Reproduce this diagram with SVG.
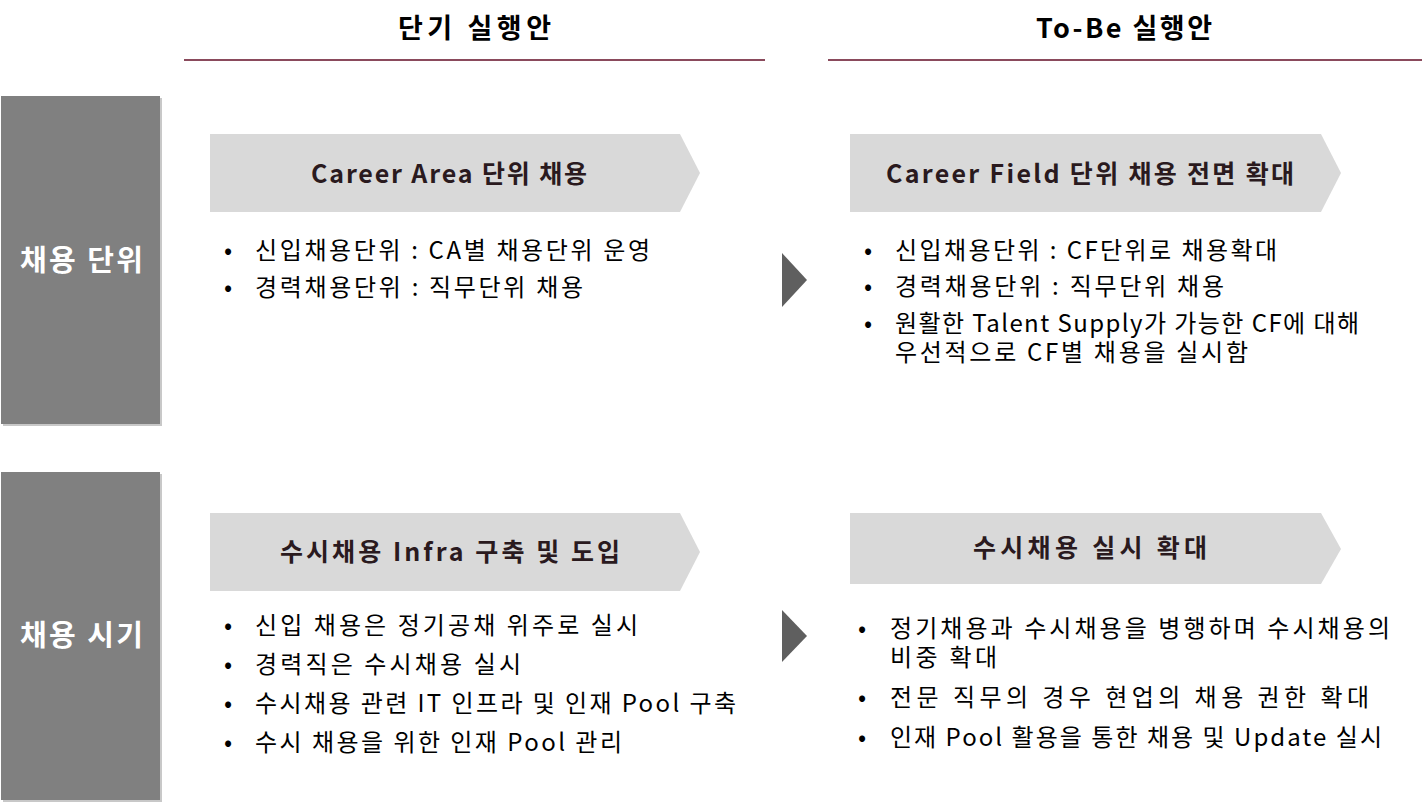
<svg xmlns="http://www.w3.org/2000/svg" width="1422" height="802" viewBox="0 0 1422 802">
<style>
.hdr{font-family:"Noto Sans CJK KR","Liberation Sans",sans-serif;font-weight:bold;font-size:27px;fill:#000}
.rule{stroke:#8a4a5c;stroke-width:2}
.side{fill:#808080}
.shadow{fill:#c8c8c8}
.sidet{font-family:"Noto Sans CJK KR","Liberation Sans",sans-serif;font-weight:bold;font-size:29px;fill:#fff}
.chev{fill:#d9d9d9}
.chevt{font-family:"Noto Sans CJK KR","Liberation Sans",sans-serif;font-weight:bold;font-size:25px;fill:#2a1a1e}
.bul{font-family:"Noto Sans CJK KR","Liberation Sans",sans-serif;font-size:24px;fill:#000}
.arr{fill:#5f5f5f}
</style>
<g id="headers">
<text class="hdr" x="398" y="38" textLength="153" lengthAdjust="spacing">단기 실행안</text>
<line class="rule" x1="184" y1="60" x2="765" y2="60"/>
<text class="hdr" x="1036" y="38" textLength="176" lengthAdjust="spacing">To-Be 실행안</text>
<line class="rule" x1="828" y1="60" x2="1422" y2="60"/>
</g>
<g id="side1">
<rect class="shadow" x="3" y="98" width="159" height="328"/>
<rect class="side" x="1" y="96" width="159" height="328"/>
<text class="sidet" x="20" y="271" textLength="123" lengthAdjust="spacing">채용 단위</text>
</g>
<g id="side2">
<rect class="shadow" x="3" y="474" width="159" height="328"/>
<rect class="side" x="1" y="472" width="159" height="328"/>
<text class="sidet" x="20" y="646" textLength="123" lengthAdjust="spacing">채용 시기</text>
</g>
<g id="chev1">
<polygon class="chev" points="210,134 680,134 700,173 680,212 210,212"/>
<text class="chevt" x="311" y="183" textLength="276" lengthAdjust="spacing">Career Area 단위 채용</text>
</g>
<g id="chev2">
<polygon class="chev" points="850,134 1321,134 1341,173 1321,212 850,212"/>
<text class="chevt" x="886" y="183" textLength="408" lengthAdjust="spacing">Career Field 단위 채용 전면 확대</text>
</g>
<g id="chev3">
<polygon class="chev" points="210,513 680,513 700,552 680,591 210,591"/>
<text class="chevt" x="280" y="561" textLength="340" lengthAdjust="spacing">수시채용 Infra 구축 및 도입</text>
</g>
<g id="chev4">
<polygon class="chev" points="850,513 1321,513 1341,549 1321,584 850,584"/>
<text class="chevt" x="973" y="557" textLength="234" lengthAdjust="spacing">수시채용 실시 확대</text>
</g>
<g id="connectors">
<polygon class="arr" points="782,253 807,280 782,307"/>
<polygon class="arr" points="782,610 807,636 782,662"/>
</g>
<g id="list1">
<text class="bul" x="224" y="259">•</text><text class="bul" x="255" y="259" textLength="395" lengthAdjust="spacing">신입채용단위 : CA별 채용단위 운영</text>
<text class="bul" x="224" y="296">•</text><text class="bul" x="255" y="296" textLength="328" lengthAdjust="spacing">경력채용단위 : 직무단위 채용</text>
</g>
<g id="list2">
<text class="bul" x="864" y="259">•</text><text class="bul" x="895" y="259" textLength="382" lengthAdjust="spacing">신입채용단위 : CF단위로 채용확대</text>
<text class="bul" x="864" y="295">•</text><text class="bul" x="895" y="295" textLength="329" lengthAdjust="spacing">경력채용단위 : 직무단위 채용</text>
<text class="bul" x="864" y="332">•</text><text class="bul" x="895" y="332" textLength="464" lengthAdjust="spacing">원활한 Talent Supply가 가능한 CF에 대해</text>
<text class="bul" x="895" y="361" textLength="353" lengthAdjust="spacing">우선적으로 CF별 채용을 실시함</text>
</g>
<g id="list3">
<text class="bul" x="224" y="634">•</text><text class="bul" x="255" y="634" textLength="383" lengthAdjust="spacing">신입 채용은 정기공채 위주로 실시</text>
<text class="bul" x="224" y="673">•</text><text class="bul" x="255" y="673" textLength="266" lengthAdjust="spacing">경력직은 수시채용 실시</text>
<text class="bul" x="224" y="712">•</text><text class="bul" x="255" y="712" textLength="481" lengthAdjust="spacing">수시채용 관련 IT 인프라 및 인재 Pool 구축</text>
<text class="bul" x="224" y="751">•</text><text class="bul" x="255" y="751" textLength="367" lengthAdjust="spacing">수시 채용을 위한 인재 Pool 관리</text>
</g>
<g id="list4">
<text class="bul" x="858" y="637">•</text><text class="bul" x="890" y="637" textLength="500" lengthAdjust="spacing">정기채용과 수시채용을 병행하며 수시채용의</text>
<text class="bul" x="890" y="666" textLength="107" lengthAdjust="spacing">비중 확대</text>
<text class="bul" x="858" y="706">•</text><text class="bul" x="890" y="706" textLength="479" lengthAdjust="spacing">전문 직무의 경우 현업의 채용 권한 확대</text>
<text class="bul" x="858" y="746">•</text><text class="bul" x="890" y="746" textLength="492" lengthAdjust="spacing">인재 Pool 활용을 통한 채용 및 Update 실시</text>
</g>
</svg>
